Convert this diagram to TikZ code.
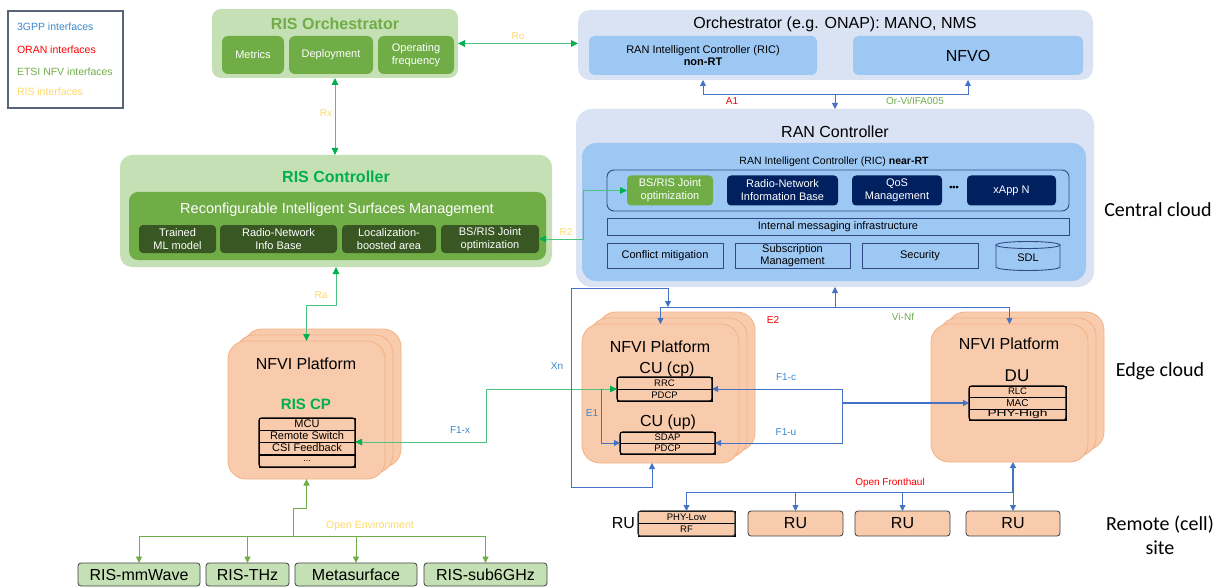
\documentclass[tikz,border=0pt]{standalone}
\usepackage{fontspec}
\setmainfont{Liberation Sans}
\newfontfamily\calib{Carlito}
\usetikzlibrary{arrows.meta}
\definecolor{lgreen}{HTML}{C5E0B4}
\definecolor{mgreen}{HTML}{70AD47}
\definecolor{dgreen}{HTML}{385723}
\definecolor{titlegreen}{HTML}{00B050}
\definecolor{glinecol}{HTML}{4CC47F}
\definecolor{paleblue}{HTML}{DAE3F3}
\definecolor{ricblue}{HTML}{9DC8F4}
\definecolor{navy}{HTML}{002060}
\definecolor{outblue}{HTML}{2F4A85}
\definecolor{peach}{HTML}{F8CBAD}
\definecolor{peachedge}{HTML}{F4B183}
\definecolor{cblue}{HTML}{4472C4}
\definecolor{lblue}{HTML}{3A87D0}
\definecolor{risyel}{HTML}{FFD966}
\definecolor{oranred}{HTML}{FF0000}
\definecolor{legendgray}{HTML}{5A6478}
\tikzset{
  fnt/.style 2 args={font=\fontsize{#1}{#2}\selectfont},
  bfnt/.style 2 args={font=\fontsize{#1}{#2}\selectfont\bfseries},
  base/.style={inner sep=0pt, outer sep=0pt},
  sz/.style 2 args={minimum width=#1, minimum height=#2},
  lgbox/.style={base, fill=lgreen, rounded corners=9pt},
  mgbox/.style={base, fill=mgreen, rounded corners=6pt, text=white, align=center},
  dgbox/.style={base, fill=dgreen, rounded corners=4pt, text=white, align=center, fnt={11}{13}},
  palebox/.style={base, fill=paleblue, rounded corners=12pt},
  ricbox/.style={base, fill=ricblue, rounded corners=6pt},
  navybox/.style={base, fill=navy, rounded corners=4pt, text=white, align=center, fnt={11}{13}},
  outbox/.style={base, draw=outblue, line width=0.9pt, align=center, fnt={11}{12.5}},
  platform/.style={fill=peach, draw=peachedge, line width=0.8pt, rounded corners=18pt},
  row/.style={base, draw=black, line width=0.6pt, fill=peach},
  frame/.style={line width=1.1pt, rounded corners=2.5pt},
  rubox/.style={base, fill=peach, draw=black!75, line width=0.8pt, rounded corners=3pt, fnt={16}{18}},
  risbox/.style={base, fill=lgreen, draw=black!75, line width=0.8pt, rounded corners=3pt, fnt={16}{18}},
  gconn/.style={draw=glinecol, line width=1pt},
  bconn/.style={draw=cblue, line width=0.8pt},
  oconn/.style={draw=mgreen, line width=0.9pt},
  gtip/.tip={Triangle[length=7pt,width=6.5pt,color=titlegreen]},
  btip/.tip={Triangle[length=6pt,width=6pt]},
  otip/.tip={Triangle[length=6.5pt,width=6pt]},
  lbl/.style={base, fnt={10}{12}},
  big/.style={base, fnt={16}{18}},
  lgd/.style={base, anchor=west, fnt={10.5}{12}},
  side/.style={base, align=center, font=\calib\fontsize{20}{24}\selectfont},
}
\begin{document}
\begin{tikzpicture}[x=1pt,y=-1pt]
\useasboundingbox (0,0) rectangle (1223,588);

% Legend
\node[base, draw=legendgray, line width=1.2pt, sz={115}{97}] (legend) at (65.5,59.5) {};
\node[lgd, text=lblue] (lg1) at (17,27) {3GPP interfaces};
\node[lgd, text=oranred] (lg2) at (17,50) {ORAN interfaces};
\node[lgd, text=mgreen] (lg3) at (17,72) {ETSI NFV interfaces};
\node[lgd, text=risyel] (lg4) at (17,92) {RIS interfaces};

% RIS Orchestrator
\node[lgbox, sz={246}{69}] (risorch) at (335,43.5) {};
\node[base, bfnt={16}{18}, text=mgreen] (risorcht) at (335,24) {RIS Orchestrator};
\node[mgbox, sz={62}{38}, fnt={11}{12.5}] (metrics) at (253,55) {Metrics};
\node[mgbox, sz={84}{38}, fnt={11}{12.5}] (deploy) at (331,55) {Deployment};
\node[mgbox, sz={76}{38}, fnt={11}{12.5}] (opfreq) at (416,55) {Operating\\frequency};

% Orchestrator
\node[palebox, sz={515}{70}] (orch) at (835.5,45) {};
\node[big] (orcht) at (835,24) {Orchestrator (e.g. ONAP): MANO, NMS};
\node[ricbox, sz={228}{39}, align=center, fnt={11}{12}] (ricnon) at (703,55.5) {RAN Intelligent Controller (RIC)\\\textbf{non-RT}};
\node[ricbox, sz={230}{39}, fnt={16}{18}] (nfvo) at (968,55.5) {NFVO};

% RAN Controller
\node[palebox, sz={518}{178}, rounded corners=16pt] (ranctl) at (835,198) {};
\node[big] (ranctlt) at (835,132) {RAN Controller};
\node[ricbox, sz={504}{138}, rounded corners=14pt] (ricnear) at (834,212) {};
\node[base, fnt={10.5}{12}] (ricneart) at (834,162) {RAN Intelligent Controller (RIC) \textbf{near-RT}};
\node[base, draw=outblue, line width=0.9pt, rounded corners=7pt, sz={462}{41}] (xapps) at (838,190.5) {};
\node[mgbox, sz={86}{30}, fnt={11}{13}, rounded corners=4pt] (xbsris) at (670,190.5) {BS/RIS Joint\\optimization};
\node[navybox, sz={111}{30}] (xrnib) at (782.5,190.5) {Radio-Network\\Information Base};
\node[navybox, sz={90}{30}] (xqos) at (897,190.5) {QoS\\Management};
\node[base, bfnt={9}{10}] (xdots) at (954,188) {•••};
\node[navybox, sz={89}{30}] (xappn) at (1011.5,190.5) {xApp N};
\node[outbox, sz={462}{17}] (imsg) at (838,226.5) {Internal messaging infrastructure};
\node[outbox, sz={116}{25}] (conf) at (665,255.5) {Conflict mitigation};
\node[outbox, sz={115}{25}] (subs) at (792.5,255.5) {Subscription\\Management};
\node[outbox, sz={116}{25}] (secu) at (920,255.5) {Security};
\draw[draw=outblue, line width=0.9pt] (996,245) -- (996,267) arc[start angle=180, end angle=0, x radius=32, y radius=3.5] -- (1060,245);
\draw[draw=outblue, line width=0.9pt] (1028,245) ellipse [x radius=32, y radius=3.5];
\node[base, fnt={11}{12}] (sdl) at (1028,258) {SDL};

% RIS Controller
\node[lgbox, sz={432}{112}, rounded corners=12pt] (risctl) at (336,211) {};
\node[base, bfnt={16}{18}, text=titlegreen] (risctlt) at (336,177) {RIS Controller};
\node[base, fill=mgreen, rounded corners=9pt, sz={417}{68}] (rism) at (337.5,226) {};
\node[base, fnt={14.5}{16}, text=white] (rismt) at (337,210) {Reconfigurable Intelligent Surfaces Management};
\node[dgbox, sz={77}{28}] (rml) at (177.5,239) {Trained\\ML model};
\node[dgbox, sz={117}{28}] (rrnib) at (278.5,239) {Radio-Network\\Info Base};
\node[dgbox, sz={94}{28}] (rloc) at (389,239) {Localization-\\boosted area};
\node[dgbox, sz={98}{28}] (rbsris) at (490,239) {BS/RIS Joint\\optimization};

% RIS NFVI platform
\draw[platform] (244,329) rectangle (401,467);
\draw[platform] (236,335) rectangle (393,473);
\node[base, platform, sz={157}{138}] (risplat) at (306.5,410) {};
\node[big] (rispt) at (306,364) {NFVI Platform};
\node[base, bfnt={15}{17}, text=titlegreen] (riscp) at (306,404) {RIS CP};
\node[row, sz={96}{12}, fnt={11}{12}] (mcu) at (307,424) {MCU};
\node[row, sz={96}{12}, fnt={11}{12}] (rsw) at (307,436) {Remote Switch};
\node[row, sz={96}{12}, fnt={11}{12}] (csi) at (307,448) {CSI Feedback};
\node[row, sz={96}{12}, fnt={9}{10}] (rdots) at (307,461) {...};
\draw[frame] (mcu.north west) rectangle (rdots.south east);

% CU NFVI platform
\draw[platform] (598,312) rectangle (755,451);
\draw[platform] (590,318) rectangle (747,457);
\node[base, platform, sz={157}{139}] (cuplat) at (660.5,393.5) {};
\node[big] (cupt) at (660,347) {NFVI Platform};
\node[big] (cucp) at (667,369) {CU (cp)};
\node[row, sz={95}{12}, fnt={9.5}{11}] (rrc) at (664.5,383) {RRC};
\node[row, sz={95}{12}, fnt={9.5}{11}] (pdcpa) at (664.5,395) {PDCP};
\draw[frame] (rrc.north west) rectangle (pdcpa.south east);
\node[big] (cuup) at (668,422) {CU (up)};
\node[row, sz={95}{11}, fnt={9.5}{11}] (sdap) at (667.5,437.5) {SDAP};
\node[row, sz={95}{11}, fnt={9.5}{11}] (pdcpb) at (667.5,448.5) {PDCP};
\draw[frame] (sdap.north west) rectangle (pdcpb.south east);

% DU NFVI platform
\draw[platform] (947,312) rectangle (1104,450);
\draw[platform] (939,318) rectangle (1096,456);
\node[base, platform, sz={157}{138}] (duplat) at (1009.5,393) {};
\node[big] (dupt) at (1009,344) {NFVI Platform};
\node[base, fnt={17}{19}] (du) at (1017,376) {DU};
\node[row, sz={97}{11}, fnt={9.5}{11}] (rlc) at (1017.5,391.5) {RLC};
\node[row, sz={97}{12}, fnt={10}{11}] (mac) at (1017.5,403) {MAC};
\node[row, sz={97}{11}, fnt={9.5}{11}] (phyh) at (1017.5,414.5) {\scalebox{1.45}[1]{PHY-High}};
\draw[frame] (rlc.north west) rectangle (phyh.south east);

% RUs
\node[row, sz={97}{12}, fnt={9.5}{11}] (phylow) at (686.5,517) {PHY-Low};
\node[row, sz={97}{13}, fnt={9.5}{11}] (rf) at (686.5,529.5) {RF};
\draw[frame, draw=black!80] (phylow.north west) rectangle (rf.south east);
\node[base, anchor=east, fnt={16}{18}] (rulbl) at (635,523) {RU};
\node[rubox, sz={95}{25}] (ru2) at (795.5,523.5) {RU};
\node[rubox, sz={95}{25}] (ru3) at (902.5,523.5) {RU};
\node[rubox, sz={94}{25}] (ru4) at (1013,523.5) {RU};

% RIS elements
\node[risbox, sz={122}{23}] (mmw) at (139,574.5) {RIS-mmWave};
\node[risbox, sz={83}{23}] (thz) at (247.5,574.5) {RIS-THz};
\node[risbox, sz={122}{23}] (meta) at (356,574.5) {Metasurface};
\node[risbox, sz={123}{23}] (sub6) at (485.5,574.5) {RIS-sub6GHz};

% Side labels
\node[side] (central) at (1158,210) {Central cloud};
\node[side] (edge) at (1160,371) {Edge cloud};
\node[side] (remote) at (1160,535) {Remote (cell)\\site};

% ---- Connectors ----
% Ro
\draw[gconn, gtip-gtip] (risorch.east) -- (risorch.east -| orch.west);
\node[lbl, text=risyel] (ro) at (518,36) {Ro};
% Rx
\draw[gconn, gtip-gtip] (risorch.south) -- (risorch.south |- risctl.north);
\node[lbl, text=risyel] (rx) at (326,113) {Rx};
% R2
\coordinate (r2x) at (583,0);
\draw[gconn, gtip-gtip] (rbsris.east) -- (rbsris.east -| r2x) |- (xbsris.west);
\node[lbl, text=risyel] (r2) at (566,232) {R2};
% Ra
\coordinate (ray) at (0,305);
\draw[gconn, gtip-gtip] (risctl.south) -- (risctl.south |- ray) -| (risplat.north);
\node[lbl, text=risyel] (ra) at (321,295) {Ra};
% F1-x
\coordinate (f1xx) at (486,0);
\draw[gconn, gtip-gtip] (rsw.south east) -- (rsw.south east -| f1xx) |- (rrc.south west);
\node[lbl, text=lblue] (f1x) at (460,430) {F1-x};
% E1
\coordinate (e1x) at (601,0);
\draw[bconn, -btip] (rrc.south west -| e1x) |- (sdap.south west);
\node[lbl, text=lblue] (e1) at (592,413) {E1};
% F1-c / F1-u
\coordinate (f1t) at (842,0);
\draw[bconn, btip-btip] (rrc.south east) -- (rrc.south east -| f1t) |- (sdap.south east);
\draw[bconn, line width=1.4pt, -btip] (mac.west -| f1t) -- (mac.west);
\node[lbl, text=lblue] (f1c) at (786,377) {F1-c};
\node[lbl, text=lblue] (f1u) at (786,432) {F1-u};
% E2 / Vi-Nf
\coordinate (bus) at (0,307);
\draw[bconn] (cuplat.north |- bus) -- (duplat.north |- bus);
\draw[bconn, -btip] (cuplat.north |- bus) -- (cuplat.north);
\draw[bconn, -btip] (duplat.north |- bus) -- (duplat.north);
\draw[bconn, -btip] (ranctl.south |- bus) -- (ranctl.south);
\node[lbl, text=oranred] (e2) at (773,320) {E2};
\node[lbl, text=mgreen] (vinf) at (903,317) {Vi-Nf};
% Xn
\coordinate (xnA) at (668,307);
\coordinate (xnB) at (668,288);
\coordinate (xnC) at (571,288);
\coordinate (xnD) at (571,487);
\coordinate (xnE) at (652,487);
\draw[bconn, btip-btip] (xnA) -- (xnB) -- (xnC) -- (xnD) -- (xnE) -- (cuplat.south -| xnE);
\node[lbl, text=lblue] (xn) at (557,366) {Xn};
% A1 / Or-Vi
\coordinate (a1y) at (0,94);
\draw[bconn, btip-btip] (ricnon.south |- orch.south) -- (ricnon.south |- a1y) -- (nfvo.south |- a1y) -- (nfvo.south |- orch.south);
\draw[bconn, -btip] (ranctl.north |- a1y) -- (ranctl.north);
\node[lbl, text=oranred] (a1) at (732,101) {A1};
\node[lbl, text=mgreen] (orvi) at (915,101) {Or-Vi/IFA005};
% Open Fronthaul
\coordinate (fh) at (0,492);
\draw[bconn] (phylow.north |- fh) -- (ru4.north |- fh);
\draw[bconn, line width=1.4pt, -btip] (ru4.north |- fh) -- (ru4.north |- duplat.south);
\foreach \n in {phylow, ru2, ru3, ru4} \draw[bconn, -btip] (\n.north |- fh) -- (\n.north);
\node[lbl, text=oranred] (ofh) at (890,483) {Open Fronthaul};
% Open Environment
\coordinate (oe) at (0,536);
\coordinate (oeA) at (293,508);
\draw[oconn] (mmw.north |- oe) -- (sub6.north |- oe);
\foreach \n in {mmw, thz, meta, sub6} \draw[oconn, -otip] (\n.north |- oe) -- (\n.north);
\draw[oconn, -otip] (oeA |- oe) -- (oeA) -| (risplat.south);
\node[lbl, fnt={10.5}{12}, text=risyel] (oenv) at (370,526) {Open Environment};
\end{tikzpicture}
\end{document}
